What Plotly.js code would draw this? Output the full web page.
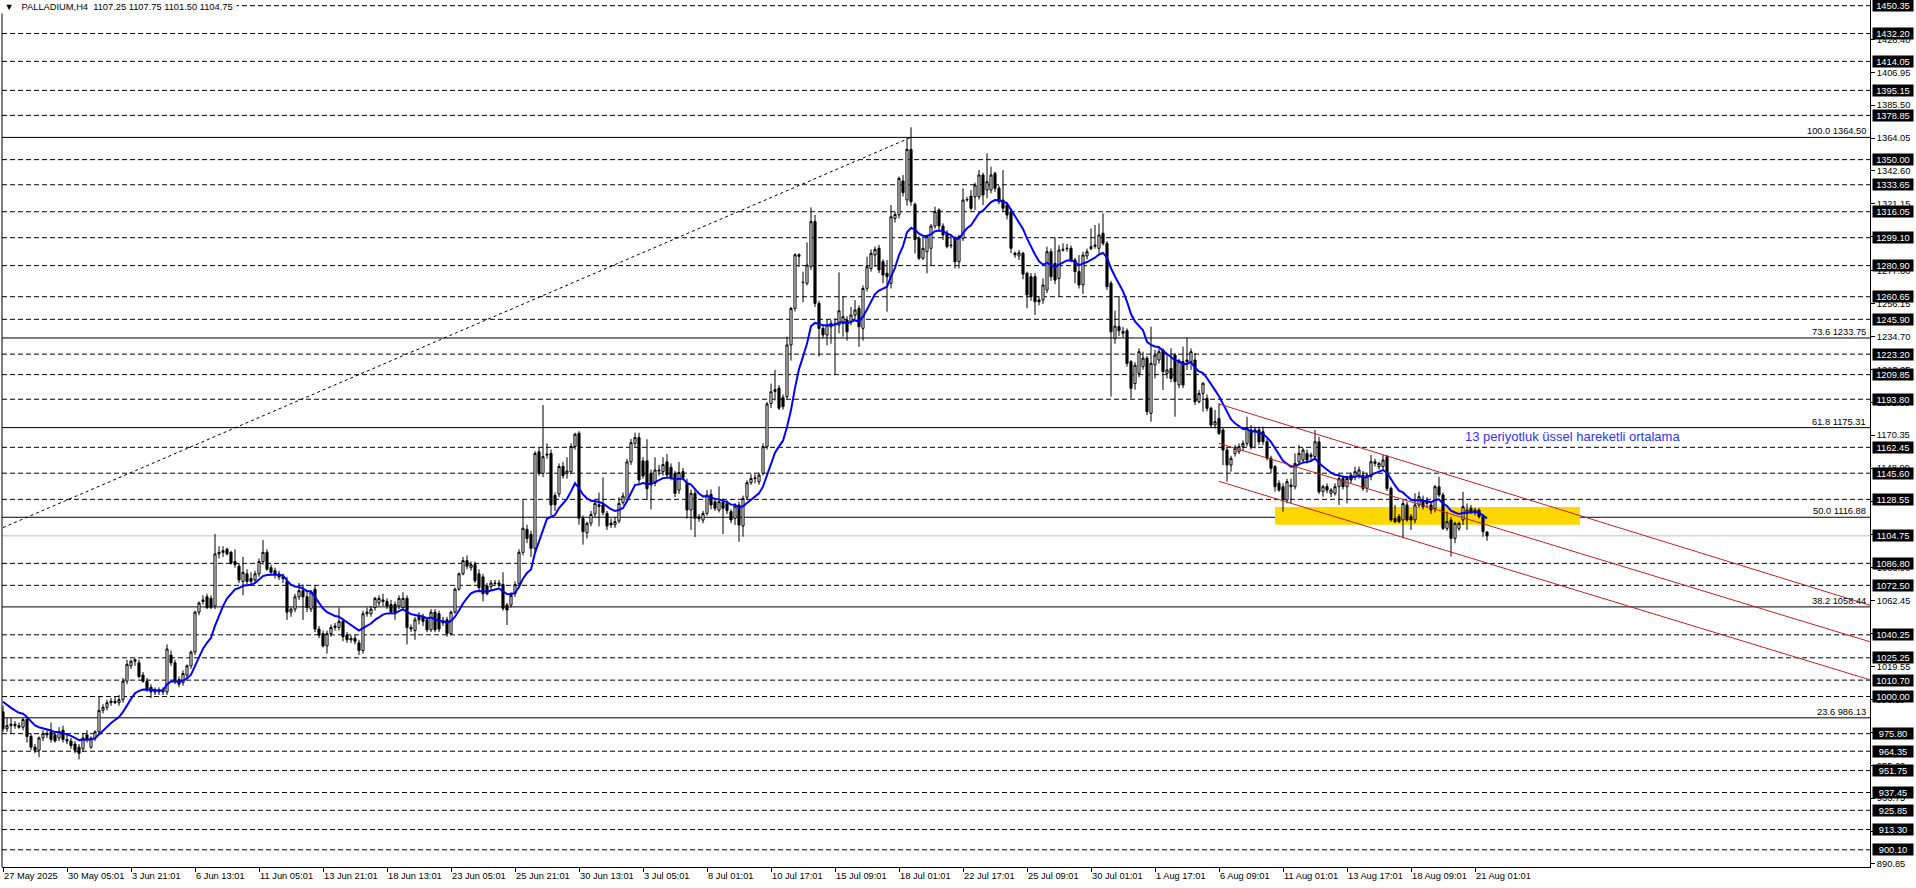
<!DOCTYPE html>
<html><head><meta charset="utf-8">
<script src="https://cdn.plot.ly/plotly-3.0.1.min.js"></script>
<style>html,body{margin:0;padding:0;background:#fff;overflow:hidden}#chart{width:1916px;height:888px}</style>
</head><body><div id="chart"></div>
<script>
// ---- DATA ----
const symbolTitle = "PALLADIUM,H4\u00a0\u00a01107.25 1107.75 1101.50 1104.75";
const timeLabels = ["27 May 2025","30 May 05:01","3 Jun 21:01","6 Jun 13:01","11 Jun 05:01","13 Jun 21:01","18 Jun 13:01","23 Jun 05:01","25 Jun 21:01","30 Jun 13:01","3 Jul 05:01","8 Jul 01:01","10 Jul 17:01","15 Jul 09:01","18 Jul 01:01","22 Jul 17:01","25 Jul 09:01","30 Jul 01:01","1 Aug 17:01","6 Aug 09:01","11 Aug 01:01","13 Aug 17:01","18 Aug 09:01","21 Aug 01:01"];
const barsPerLabel = 16;

const opens = [
990,979,981,982,981,980,985,974,967,965,
973,976,977,975,973,978,972,971,969,967,
966,975,967,973,977,991,993,996,997,996,
998,1010,1020,1023,1022,1014,1010,1006,1004,1003,
1004,1003,1027,1022,1011,1009,1014,1020,1029,1055,
1062,1065,1064,1059,1093,1094,1096,1094,1088,1085,
1075,1080,1077,1076,1080,1088,1094,1084,1082,1080,
1078,1075,1055,1057,1065,1069,1065,1057,1070,1044,
1041,1033,1041,1045,1045,1049,1040,1038,1038,1035,
1030,1054,1054,1058,1061,1063,1062,1060,1060,1059,
1058,1064,1044,1043,1053,1052,1050,1043.5,1055,1054,
1049,1050,1041,1055,1070,1080,1088.6,1084,1086,1080,
1078,1072,1071.6,1074,1073,1073,1059.7,1059.7,1067,1073.8,
1094,1109,1105.7,1096.6,1159.6,1145.5,1158,1158.5,1131,1132,
1150,1145.5,1146.6,1163,1171.6,1116,1106.8,1113,1119,1125,
1124.9,1119.4,1113,1112,1114.4,1126.4,1128,1153,1165,1168.8,
1153.6,1153.6,1145.5,1139,1147,1146.6,1153,1149.4,1145.5,1134.6,
1146.6,1139,1121.6,1132.5,1117,1115,1119.4,1131.8,1127,1121.6,
1126.6,1125.9,1120.5,1116.2,1124.9,1111.2,1129.9,1139.4,1142,1140,
1145.5,1162.9,1191,1200,1201,1195,1195.5,1229.2,1253,1288,
1270,1269.4,1280.2,1309.6,1256.3,1240,1235.7,1241,1242.9,1242.2,
1243.3,1245.5,1244.4,1248.7,1253,1240,1266.1,1279,1287.8,1292.2,
1283.5,1275.9,1269.4,1311.7,1314,1336.1,1323.7,1356.7,1320.9,1298.7,
1285.7,1290,1292.2,1306.7,1317.2,1306.7,1302,1294.3,1298.7,1283.5,
1298.7,1323.7,1326.3,1325.8,1325.8,1340,1330.2,1330.2,1341,1331.3,
1323.7,1320.4,1316.1,1289,1287.2,1288.9,1275.9,1273.7,1273.7,1258.5,
1258.5,1265,1290,1282.4,1272.6,1291,1292,1292.2,1284.6,1277,
1268.3,1287.2,1292,1293.5,1292.2,1302,1295.4,1269.4,1233.5,1241.1,
1238,1238.5,1218.3,1204,1210.7,1215,1220.6,1184.6,1216.1,1219.4,
1225.9,1210.7,1213.9,1222.6,1203.1,1218.3,1219.4,1218.3,1219.4,1192.2,
1197.6,1194.4,1187.9,1177,1181.3,1173.8,1160.7,1150.9,1158.5,1159.6,
1162.9,1165,1173.8,1172.7,1173.8,1172.7,1166.1,1155.3,1149.9,1139,
1136.8,1128.1,1136.8,1136.8,1153.1,1154.2,1158.5,1156.4,1156.4,1166.1,
1133.5,1137,1132.5,1132.5,1136.8,1142.2,1136.8,1144.4,1143.3,1144.4,
1144.4,1135.7,1143.3,1152,1149.9,1149.9,1156.4,1135.7,1116.2,1117.3,
1115.1,1124.9,1117.3,1115.1,1124.9,1128.1,1125.9,1124.9,1122.7,1136.8,
1131.4,1109.6,1115.1,1103.1,1109.6,1115.1,1119.4,1122.7,1120,1121.6,
1117.3,1107.25];
const highs = [
994,986,986,984,983,986,987,976,969,974,
978,978,983,977,980,981,975,973,971,969,
976,978,974,978,1000,995,998,999,1000,1001,
1012,1024,1024,1025,1024,1016,1012,1008,1006,1006,
1006,1034,1030,1024,1013,1017,1021,1030,1056,1062,
1066,1067,1066,1106,1098,1098,1097,1095,1096,1087,
1091,1083,1081,1082,1090,1102,1096,1086,1084,1082,
1080,1078,1058,1067,1074,1073,1068,1069,1072,1046,
1043,1043,1047,1048,1058,1051,1042,1040,1040,1037,
1056,1058,1059,1065,1066,1067,1064,1063,1062,1066,
1068,1066,1047,1052,1055,1054,1052,1057,1057,1056,
1052,1052,1056,1071,1081,1091,1092,1088,1088,1083,
1080,1074,1076,1076,1076,1081,1061,1068,1075,1096,
1128,1112,1108,1160,1162,1190,1165,1161,1133,1152,
1153,1156,1165,1172,1173,1118,1114,1121,1128,1133,
1143,1121,1116,1117,1130,1133,1155,1168,1172,1172,
1156,1167.7,1148,1156,1151,1156,1158,1152,1147,1153,
1149,1142,1135,1135,1119,1121,1134.6,1135,1129,1137,
1129,1128,1122,1126,1127,1131,1141,1145,1145,1146,
1165,1192,1204,1213,1203,1197,1234.6,1254,1289,1289,
1277,1296,1318.9,1314,1258,1242,1245.5,1245.5,1246.6,1276.5,
1260.7,1248,1254,1258.5,1255,1268,1286.7,1291.5,1293.3,1294.3,
1285,1284.6,1320.4,1316,1338.9,1340,1363.9,1371.1,1322,1300,
1298.7,1301,1308,1319.3,1318.3,1308.5,1304,1300.9,1300,1301,
1331.3,1325.8,1330.2,1335,1343.3,1341.5,1354.1,1345.4,1342.2,1333,
1343.3,1322,1318,1290,1291.1,1290,1277,1276,1276,1261,
1272.6,1293.3,1292,1299.3,1294.3,1295.4,1295,1294,1286,1287.8,
1290,1292,1305.2,1307.4,1308.5,1315,1297,1271,1251.5,1261.1,
1241,1240,1219.5,1218,1227,1224.8,1222,1241.1,1225.9,1227,
1227,1222.6,1227,1224,1220,1228.1,1233.9,1227,1224,1199.8,
1205,1197,1189,1186.8,1191.1,1175,1162,1157,1164,1165,
1167,1182.4,1177,1175.9,1175.9,1176,1168,1157,1151,1141,
1139,1142,1142.2,1158.5,1164,1162,1161,1159,1173.8,1169.4,
1138,1139,1136,1139,1144,1144,1144,1146,1149.9,1149.9,
1147,1146,1157.5,1155,1153.1,1157.5,1157.5,1137,1124.9,1119,
1128,1127,1119,1132.5,1133.5,1131,1130,1127,1137.9,1143.3,
1133,1120.5,1117,1114,1114,1133.5,1125.9,1124.9,1123,1122.7,
1119,1107.75];
const lows = [
977,977,976,979,979,978,970,965,963,960.5,
971,973,970,970,971,970,969,966,963,959,
964,970,966,971,975,989,991,994,995,994,
996,1008,1018,1020,1012,1009,1003,999,1001,1001,
1001,1001,1020,1008,1006,1007,1012,1018,1027,1053,
1060,1057,1057,1057,1090,1091,1092,1086,1084,1074,
1066,1073,1073,1074,1078,1086,1082,1080,1077,1076,
1074,1050,1052,1055,1063,1050,1055,1055,1042,1038,
1032,1028,1039,1043,1043,1036,1035,1035,1034,1027,
1028,1052,1052,1056,1059,1059,1057,1054,1050,1057,
1056,1034,1042,1037,1047,1046,1042,1042,1042,1042,
1046,1039,1040,1054,1069,1079,1083,1082,1074,1069,
1062,1066,1069,1072,1071,1056,1046.6,1058,1065,1072,
1092,1100,1091,1094,1144,1143,1155,1118,1121,1130,
1142,1142,1145,1161,1112,1099,1103,1111,1117,1111,
1118,1108.6,1110,1110,1113,1125,1127,1151,1163,1139,
1142,1128,1122,1137,1144,1144,1143,1141,1130,1132,
1141,1116,1108.6,1104,1114,1113,1118,1122,1121,1120,
1105.9,1119,1113,1111.8,1101,1104.2,1128,1138,1139,1138,
1144,1161,1188,1193,1186.8,1187,1194,1219,1251,1280,
1257,1268,1278,1254,1221.6,1233.5,1229,1230,1209.6,1236.8,
1234.6,1232,1242,1246,1228,1232,1264,1277,1280,1276,
1269.4,1250.9,1266,1309,1311.7,1326,1320,1320,1288.9,1284.6,
1284.6,1275.9,1281.3,1305,1303,1297.6,1292.2,1292.2,1279.1,1279.1,
1297,1322.6,1317,1317.2,1324,1320.4,1324.8,1328,1329,1321,
1316,1311,1288.9,1286,1284.6,1272,1253.1,1258,1248.7,1255,
1256,1263,1271,1269,1260.7,1290,1290,1283,1269.4,1266,
1262.5,1285,1291,1292,1288.9,1294,1265,1195.5,1230,1235,
1234,1215,1194.4,1200,1208,1213,1183.5,1179.2,1207.4,1217,
1199.8,1207.4,1205,1182.4,1201,1201,1212.9,1212.9,1190,1191.1,
1185.7,1186,1175,1174.8,1170.5,1150.9,1140.1,1146.6,1156.4,1158,
1160,1163,1161,1161.8,1164,1164,1154,1145.5,1133.5,1133.5,
1120.5,1126,1125.9,1135,1151,1152,1152,1153,1154,1132,
1130.3,1132.5,1130,1131,1124.9,1135,1125.9,1139,1141,1142,
1134,1133,1141,1150,1148,1148,1134,1114,1113,1113,
1103.1,1114,1108.6,1113,1123,1122,1123,1119,1120,1130,
1108.6,1108,1091.2,1099.9,1108,1111.8,1108.6,1119,1118,1116,
1104.2,1101.5];
const closes = [
979,981,982,981,980,985,974,967,965,973,
976,975,972,971,977,972,971,968,965,963,
973,972,973,977,991,993,996,997,996,998,
1010,1021,1023,1024,1013,1010,1005,1003,1003,1004,
1003,1031,1022,1010,1008,1015,1020,1029,1055,1061,
1063,1058,1058,1093,1094,1095,1093,1087,1086,1076,
1081,1075,1075,1080,1088,1094,1083,1081,1080,1078,
1077,1055,1057,1065,1069,1065,1058,1068,1044,1040,
1033,1041,1045,1046,1049,1039,1037,1037,1036,1030,
1054,1055,1057,1064,1064,1062,1059,1055,1054,1064,
1064,1045,1045,1050,1050,1049,1043.5,1055,1043.5,1044,
1048,1041,1055,1070,1080,1088.6,1085,1086,1075.5,1071,
1067,1067,1074,1073.8,1074,1057.5,1056.4,1066,1073,1094,
1109.7,1103,1096.6,1158.5,1145.5,1156.4,1157.5,1124.9,1125,1150,
1144,1147,1163,1171,1116.2,1107.5,1112.9,1118.7,1125.9,1124,
1119.9,1111.2,1112,1114,1125.9,1130.7,1153,1165.5,1168.8,1141.2,
1143.8,1135.5,1138,1147.7,1147.5,1151.2,1144.4,1143.3,1132.5,1146,
1142.9,1121.6,1132.5,1116.2,1116,1119.4,1131.4,1124.9,1122.7,1127,
1122.7,1121.2,1115.1,1124.2,1111.8,1129.2,1139.4,1142.2,1142.5,1144.4,
1162.9,1190.7,1198.7,1199,1188,1189,1229.2,1253,1288,1287,
1270,1281.3,1309.6,1256.3,1240,1235.7,1242.2,1243.3,1243,1251.5,
1247.6,1237.8,1248.7,1252,1241.1,1266,1280.2,1288.9,1291.5,1278.1,
1274.8,1273.7,1312.8,1314.3,1337.8,1328.5,1356.7,1322.6,1298,1285.7,
1292.2,1299.8,1306.7,1316.1,1306.7,1300.9,1293.3,1294,1283.5,1299.8,
1323.7,1324,1318.3,1333.5,1340,1326.9,1335.6,1340,1331.3,1322.6,
1318.3,1313.9,1292.2,1288,1289.3,1275.4,1261.8,1260.7,1257.4,1257.4,
1268.3,1290,1273.7,1271.5,1291.1,1291.5,1292.2,1284.6,1277,1268.3,
1287.8,1290,1293.3,1294.3,1300.9,1295.4,1267.2,1237.8,1241.5,1238.5,
1236.8,1217.2,1200.9,1216,1224.8,1220.6,1185.7,1217.2,1222.6,1224.8,
1211.8,1212.9,1207.4,1205.3,1218.3,1203.1,1218.3,1224.8,1192.2,1197.6,
1204.2,1187.9,1177,1179.2,1171.6,1160.7,1150.9,1155.3,1161.8,1162.9,
1165,1174.8,1162.9,1173.8,1166.1,1166.1,1155.3,1148.8,1136.8,1134.6,
1128.1,1140.1,1137.9,1152,1158.5,1160.7,1154.2,1157.5,1166.1,1133.5,
1136.8,1134.6,1134.6,1136.8,1142.2,1136.8,1142.2,1141.2,1146.6,1147.7,
1135.7,1144.4,1153.1,1153.1,1152,1154.2,1135.7,1115.1,1114,1114,
1125.9,1115.1,1115.1,1124.9,1130.3,1123.8,1127,1121.6,1136.8,1131.4,
1109.6,1114,1103.1,1112.9,1112.9,1123.8,1121.6,1120.5,1121.6,1117.3,
1107.5,1104.75];

const emaPeriod = 13;
const emaStartValue = 996.6;   // EMA value visible at the first bar
const emaLabelText = "13 periyotluk üssel hareketli ortalama";

const srLevels = [1450.35,1432.20,1414.05,1395.15,1378.85,1350.00,1333.65,1316.05,1299.10,1280.90,1260.65,1245.90,1223.20,1209.85,1193.80,1162.45,1145.60,1128.55,1086.80,1072.50,1040.25,1025.25,1010.70,1000.00,975.80,964.35,951.75,937.45,925.85,913.30,900.10];
const fibPercents = ["100.0","73.6","61.8","50.0","38.2","23.6"];
const fibLevels = [1364.50,1233.75,1175.31,1116.88,1058.44,986.13];
const fibTrendIdx = [-215, 227];
const fibTrendPrice = [869.26, 1364.50];
const axisTicks = [1428.40,1406.95,1385.50,1364.05,1342.60,1321.15,1299.70,1277.60,1256.15,1234.70,1213.25,1191.80,1170.35,1148.90,1127.45,1105.35,1083.90,1062.45,1041.00,1019.55,998.10,976.65,955.20,933.75,912.30,890.85];
const lastPrice = 1104.75;

const channelIdx = [304, 466.75];
const channelUpper = [1190.7, 1059.5];
const channelMiddle = [1165.06, 1035.7];
const channelLower = [1140.3, 1010.9];

const zoneIdx = [318, 394.25];
const zonePrice = [1112.0, 1123.6];

// ---- BUILD ----
const N = closes.length;
const idx = closes.map((_, i) => i);
const k = 2 / (emaPeriod + 1);
const ema = [];
closes.forEach((c, i) => { ema.push(i === 0 ? emaStartValue : ema[i-1] + k * (c - ema[i-1])); });

const FONT = "Liberation Sans, Arial, sans-serif";
const FS = 9.3;

const traces = [
  {type:'candlestick', x: idx, open: opens, high: highs, low: lows, close: closes,
   increasing:{line:{color:'#000', width:1}, fillcolor:'#fff'},
   decreasing:{line:{color:'#000', width:1}, fillcolor:'#000'},
   whiskerwidth: 0, hoverinfo:'skip', showlegend:false},
  {type:'scatter', mode:'lines', x: idx, y: ema, line:{color:'#0000ff', width:2}, hoverinfo:'skip', showlegend:false},
  {type:'scatter', mode:'lines', x: fibTrendIdx, y: fibTrendPrice, line:{color:'#000', width:1, dash:'3px,3px'}, hoverinfo:'skip', showlegend:false}
];
[channelUpper, channelMiddle, channelLower].forEach(ch => {
  traces.push({type:'scatter', mode:'lines', x: channelIdx, y: ch, line:{color:'#c42222', width:1}, hoverinfo:'skip', showlegend:false});
});

const shapes = [];
shapes.push({type:'rect', xref:'x', yref:'y', x0: zoneIdx[0], x1: zoneIdx[1], y0: zonePrice[0], y1: zonePrice[1], fillcolor:'#FFD700', line:{width:0}, layer:'below'});
srLevels.forEach(v => shapes.push({type:'line', xref:'paper', yref:'y', x0:0, x1:1, y0:v, y1:v, line:{color:'#000', width:1, dash:'5px,3px'}, layer:'below'}));
fibLevels.forEach(v => shapes.push({type:'line', xref:'paper', yref:'y', x0:0, x1:1, y0:v, y1:v, line:{color:'#000', width:1}, layer:'below'}));
shapes.push({type:'line', xref:'paper', yref:'y', x0:0, x1:1, y0:lastPrice, y1:lastPrice, line:{color:'#c0c0c0', width:1}, layer:'below'});
shapes.push({type:'line', xref:'paper', yref:'paper', x0:0, x1:0, y0:0, y1:0.99, line:{color:'#000', width:1}});

const annotations = [];
srLevels.concat([lastPrice]).forEach(v => annotations.push({
  xref:'paper', yref:'y', x:1, y:v, xanchor:'left', yanchor:'middle', xshift:2,
  text: v.toFixed(2), showarrow:false, bgcolor:'#000', borderpad:0, width:40, height:11, align:'center',
  font:{family:FONT, size:FS, color:'#fff'}
}));
fibLevels.forEach((v, j) => annotations.push({
  xref:'paper', yref:'y', x:1, y:v, xanchor:'right', yanchor:'bottom', xshift:-2, yshift:-1,
  text: fibPercents[j] + ' ' + v.toFixed(2), showarrow:false,
  font:{family:FONT, size:FS, color:'#000'}
}));
annotations.push({xref:'paper', yref:'paper', x:0, y:1, xanchor:'left', yanchor:'top', xshift:-2, yshift:0,
  text:'\u00a0\u25BC\u00a0\u00a0\u00a0' + symbolTitle + '\u00a0', showarrow:false, bgcolor:'#fff', borderpad:1,
  font:{family:FONT, size:FS, color:'#000'}});
annotations.push({xref:'x', yref:'y', x:365, y:1169.2, xanchor:'left', yanchor:'middle',
  text: emaLabelText, showarrow:false, font:{family:FONT, size:13, color:'#3030ff'}});

const layout = {
  width:1916, height:888,
  margin:{l:2, r:46, t:0, b:21, pad:0},
  paper_bgcolor:'#fff', plot_bgcolor:'#fff',
  showlegend:false, boxgap:0.25,
  font:{family:FONT, size:FS, color:'#000'},
  xaxis:{range:[-0.25, 466.75], type:'linear', rangeslider:{visible:false},
    showgrid:false, zeroline:false, showline:true, linecolor:'#000', linewidth:1,
    ticks:'outside', ticklen:4, tickcolor:'#000', tickwidth:1, tickangle:0,
    tickmode:'array', tickvals: timeLabels.map((_, j) => j * barsPerLabel), ticktext: timeLabels,
    ticklabelposition:'outside right', tickfont:{family:FONT, size:FS, color:'#000'}},
  yaxis:{range:[888.88, 1454.07], side:'right',
    showgrid:false, zeroline:false, showline:true, linecolor:'#000', linewidth:1,
    ticks:'outside', ticklen:4, tickcolor:'#000', tickwidth:1,
    tickmode:'array', tickvals: axisTicks, ticktext: axisTicks.map(v => v.toFixed(2)),
    tickfont:{family:FONT, size:FS, color:'#000'}},
  shapes: shapes,
  annotations: annotations
};

Plotly.newPlot('chart', traces, layout, {displayModeBar:false, staticPlot:true});
</script>
</body></html>
